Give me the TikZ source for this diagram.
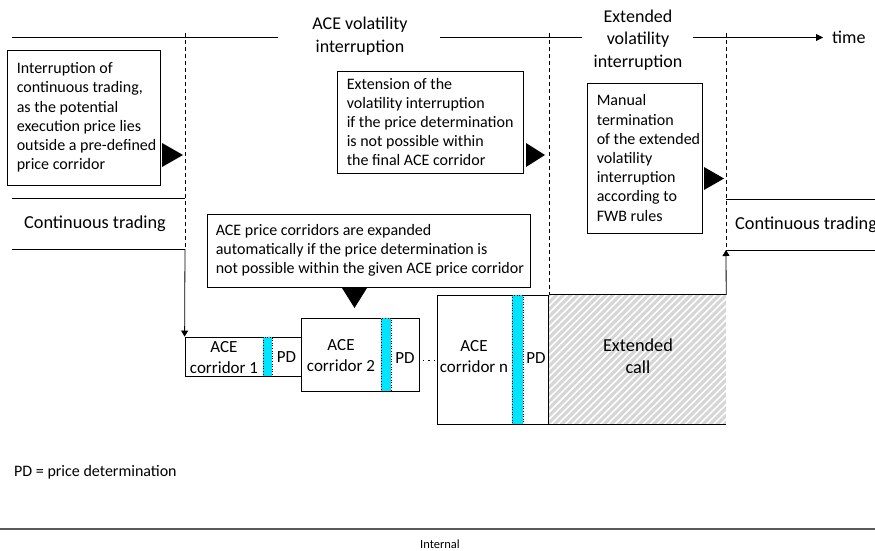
\documentclass[tikz,border=0pt]{standalone}
\usepackage{fontspec}
\setmainfont{Carlito}
\usetikzlibrary{arrows.meta,patterns.meta}
\definecolor{pdcyan}{RGB}{0,229,255}
\definecolor{hatchgray}{RGB}{214,214,214}
\definecolor{rulegray}{RGB}{90,90,90}
\tikzset{
  txt/.style={inner sep=0pt, align=left, font=\fontsize{16}{19.2}\selectfont},
  ctxt/.style={inner sep=0pt, align=center, font=\fontsize{17}{21}\selectfont},
  bigtxt/.style={inner sep=0pt, align=center, font=\fontsize{18.3}{22}\selectfont},
  ttl/.style={inner sep=0pt, align=center, font=\fontsize{18}{22.5}\selectfont},
  infobox/.style={draw, line width=0.8pt, inner sep=0pt, fill=white},
  phase/.style={draw, line width=0.8pt, inner sep=0pt, fill=white},
  pdbar/.style={draw, dotted, line width=0.6pt, fill=pdcyan, inner sep=0pt},
  marker/.style={draw=none, fill=black},
  dash line/.style={line width=0.8pt, dash pattern=on 4pt off 3pt},
  conn/.style={line width=0.8pt, -{Triangle[width=7pt,length=6pt]}},
}
\begin{document}
\begin{tikzpicture}[x=1pt,y=-1pt]
\useasboundingbox (0,0) rectangle (875,551);

% timeline
\coordinate (t0) at (12,37.5);
\coordinate (t1) at (278,37.5);
\coordinate (t2) at (440,37.5);
\coordinate (t3) at (582,37.5);
\coordinate (t4) at (693,37.5);
\coordinate (t5) at (823,37.5);
\draw[line width=0.8pt] (t0) -- (t1);
\draw[line width=0.8pt] (t2) -- (t3);
\draw[line width=0.8pt, -{Triangle[width=7pt,length=7pt]}] (t4) -- (t5);
\node[ttl] (acevi) at (360,36) {ACE volatility\\interruption};
\node[ttl] (extvi) at (638,40) {Extended\\volatility\\interruption};
\node[ttl, anchor=west] (time) at (832,37) {time};

% continuous trading boxes (open sides)
\coordinate (ctl1) at (12,198);
\coordinate (ctl2) at (185,198);
\coordinate (ctl3) at (12,249);
\coordinate (ctl4) at (185,249);
\draw[line width=0.8pt] (ctl1) -- (ctl2);
\draw[line width=0.8pt] (ctl3) -- (ctl4);
\node[bigtxt] (ctleft) at (95,224) {Continuous trading};

\coordinate (ctr1) at (726,199);
\coordinate (ctr2) at (880,199);
\coordinate (ctr3) at (726,250);
\coordinate (ctr4) at (880,250);
\draw[line width=0.8pt] (ctr1) -- (ctr2);
\draw[line width=0.8pt] (ctr3) -- (ctr4);
\node[bigtxt, anchor=west] (ctright) at (735,225) {Continuous trading};

% dashed verticals
\coordinate (d1a) at (185,33);
\coordinate (d2a) at (549,33);
\coordinate (d2b) at (549,295);
\coordinate (d3a) at (726,33);
\draw[dash line] (d1a) -- (ctl4);
\draw[dash line] (d2a) -- (d2b);
\draw[dash line] (d3a) -- (ctr3);

% info boxes
\node[infobox, minimum width=153pt, minimum height=135pt] (b1) at (83.5,117.5) {};
\node[txt, anchor=west] (b1t) at ([xshift=10pt]b1.west) {Interruption of\\continuous trading,\\as the potential\\execution price lies\\outside a pre-defined\\price corridor};

\node[infobox, minimum width=186pt, minimum height=102pt] (b2) at (430,122) {};
\node[txt, anchor=west] (b2t) at ([xshift=10pt]b2.west) {Extension of the\\volatility interruption\\if the price determination\\is not possible within\\the final ACE corridor};

\node[infobox, minimum width=115pt, minimum height=150pt] (b3) at (644.5,158) {};
\node[txt, anchor=west] (b3t) at ([xshift=10pt]b3.west) {Manual\\termination\\of the extended\\volatility\\interruption\\according to\\FWB rules};

\node[infobox, minimum width=323pt, minimum height=73pt] (b4) at (368.5,250.5) {};
\node[txt, anchor=west] (b4t) at ([xshift=9pt]b4.west) {ACE price corridors are expanded\\automatically if the price determination is\\not possible within the given ACE price corridor};

% triangle markers
\fill[marker] (162,143) -- (162,167) -- (183,155) -- cycle;
\fill[marker] (526,143) -- (526,167) -- (545,155) -- cycle;
\fill[marker] (704,167) -- (704,190) -- (724,178.5) -- cycle;
\fill[marker] (342,288) -- (367,288) -- (354.5,308) -- cycle;

% ACE corridor 1
\node[phase, minimum width=116pt, minimum height=39pt] (c1) at (243,356.5) {};
\node[pdbar, minimum width=9pt, minimum height=39pt] (p1) at (267.5,356.5) {};
\node[ctxt] (c1t) at (224,357.5) {ACE\\corridor 1};
\node[ctxt] (c1pd) at (286.5,357) {PD};

% ACE corridor 2
\node[phase, minimum width=118pt, minimum height=73pt] (c2) at (360,354.5) {};
\node[pdbar, minimum width=10pt, minimum height=73pt] (p2) at (386,354.5) {};
\node[ctxt] (c2t) at (341,356) {ACE\\corridor 2};
\node[ctxt] (c2pd) at (405,358) {PD};

% dots
\coordinate (dt1) at (423,360);
\coordinate (dt2) at (435,360);
\draw[line width=1pt, dash pattern=on 1.2pt off 4.2pt] (dt1) -- (dt2);

% ACE corridor n
\node[phase, minimum width=112pt, minimum height=129pt] (cn) at (493,359.5) {};
\node[pdbar, minimum width=11pt, minimum height=129pt] (pn) at (517.5,359.5) {};
\node[ctxt] (cnt) at (474,357) {ACE\\corridor n};
\node[ctxt] (cnpd) at (536,358) {PD};

% Extended call
\node[minimum width=177pt, minimum height=129pt, inner sep=0pt, fill=hatchgray] (ec) at (637.5,359.5) {};
\fill[pattern={Lines[angle=45,distance=5pt,line width=1.6pt]}, pattern color=white] (ec.north west) rectangle (ec.south east);
\draw[line width=0.8pt] (ec.north west) -- (ec.north east);
\draw[line width=0.8pt] (ec.south west) -- (ec.south east);
\draw[line width=0.8pt] (ec.north west) -- (ec.south west);
\node[bigtxt] (ect) at (638,356) {Extended\\call};

% connectors
\draw[conn] (ctl4) -- (c1.north west);
\draw[conn] (ec.north east) -- (ctr3);

% legend and footer
\node[txt, anchor=west] (legend) at (14,472) {PD = price determination};
\coordinate (f1) at (0,529);
\coordinate (f2) at (875,529);
\draw[line width=1.8pt, rulegray] (f1) -- (f2);
\node[inner sep=0pt, font=\fontsize{12.5}{14}\selectfont] (internal) at (440,544) {Internal};
\end{tikzpicture}
\end{document}
